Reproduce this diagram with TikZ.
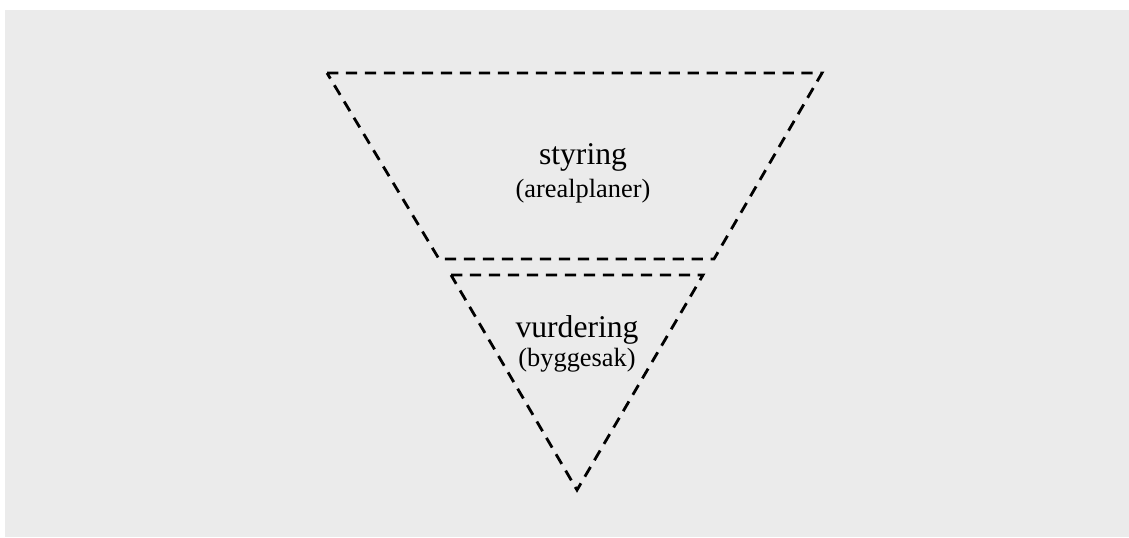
\documentclass[tikz,border=0pt]{standalone}
\usepackage{fontspec}
\setmainfont{Liberation Serif}
\definecolor{skissGrey}{HTML}{EBEBEB}
\usetikzlibrary{positioning}

\tikzset{
	stiplet/.style={line width=1.6pt, dash pattern=on 6.4pt off 4.4pt, line join=miter},
	hovedtekst/.style={font=\fontsize{18}{20}\selectfont, inner sep=0pt},
	undertekst/.style={font=\fontsize{15}{17}\selectfont, inner sep=0pt}
}

\begin{document}
\begin{tikzpicture}
		
		% Bakgrunn
		\useasboundingbox (0,0) rectangle (22.58,-10.74);
		\fill[skissGrey] (0.1,-0.2) rectangle (22.58,-10.74);
		
		% Trapes (styring)
		\coordinate (tvo) at (6.54,-1.46);
		\coordinate (tho) at (16.44,-1.46);
		\coordinate (thn) at (14.28,-5.18);
		\coordinate (tvn) at (8.78,-5.18);
		\draw[stiplet] (tvo) -- (tho) -- (thn) -- (tvn) -- cycle;
		
		% Trekant (vurdering)
		\coordinate (kvo) at (9.02,-5.5);
		\coordinate (kho) at (14.06,-5.5);
		\coordinate (kspiss) at (11.54,-9.8);
		\draw[stiplet] (kvo) -- (kho) -- (kspiss) -- cycle;
		
		% Tekster
		\node[hovedtekst] (styring) at (11.66,-3.15) {styring};
		\node[undertekst, below=0.15 of styring] (arealplaner) {(arealplaner)};
		\node[hovedtekst] (vurdering) at (11.54,-6.6) {vurdering};
		\node[undertekst, below=0.07 of vurdering] (byggesak) {(byggesak)};
		
	\end{tikzpicture}
\end{document}
